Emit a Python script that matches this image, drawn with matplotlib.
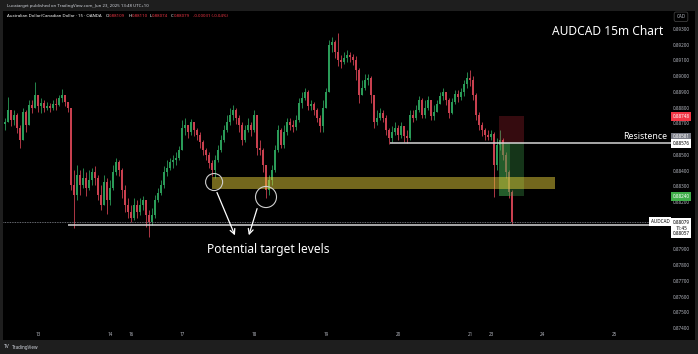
import numpy as np
import matplotlib.pyplot as plt
from matplotlib.patches import Rectangle, Ellipse
from matplotlib import transforms

plt.rcParams['font.family'] = ['Noto Sans', 'DejaVu Sans']

# hourly candles (15m chart compressed), prices in 1e-5 units
# x = trading hours since Fri 13 00:00, weekend gaps collapsed
hours = np.arange(-11, 159)
first_open = 88700
closes = [88712, 88789, 88725, 88757, 88674, 88598, 88776, 88693, 88820, 88801, 88884, 88814, 88833, 88801, 88814, 88801, 88827, 88820, 88865, 88884, 88839, 88801,
          88312, 88249, 88376, 88312, 88357, 88293, 88344, 88395, 88357, 88249, 88185, 88331, 88217, 88293, 88395, 88458, 88408, 88281, 88185, 88141, 88103, 88185,
          88141, 88185, 88217, 88122, 88077, 88122, 88217, 88262, 88312, 88395, 88420, 88458, 88471, 88484, 88535, 88674, 88693, 88649, 88712, 88662, 88630, 88585,
          88535, 88503, 88452, 88408, 88471, 88535, 88598, 88662, 88712, 88757, 88789, 88738, 88693, 88598, 88662, 88693, 88662, 88757, 88547, 88535, 88439, 88281,
          88344, 88408, 88535, 88662, 88566, 88649, 88712, 88693, 88681, 88725, 88833, 88865, 88903, 88814, 88827, 88789, 88738, 88687, 88801, 88903, 89201, 89220,
          89157, 89106, 89093, 89119, 89138, 89125, 89106, 89043, 88884, 88928, 88979, 88992, 88884, 88712, 88738, 88770, 88738, 88662, 88611, 88649, 88674, 88630,
          88687, 88623, 88611, 88757, 88738, 88789, 88852, 88757, 88801, 88852, 88751, 88776, 88827, 88877, 88903, 88852, 88770, 88839, 88890, 88871, 88903, 88954,
          88992, 88979, 88884, 88757, 88693, 88662, 88630, 88617, 88636, 88439, 88566, 88598, 88503, 88395, 88268, 88079]
highs = [88738, 88871, 88776, 88789, 88770, 88693, 88801, 88789, 88852, 88852, 88966, 88865, 88865, 88852, 88839, 88833, 88852, 88865, 88884, 88922, 88865, 88839,
         88801, 88408, 88439, 88408, 88420, 88395, 88408, 88420, 88433, 88376, 88312, 88376, 88357, 88344, 88439, 88484, 88471, 88420, 88312, 88230, 88185, 88230,
         88217, 88230, 88242, 88217, 88154, 88166, 88249, 88293, 88344, 88433, 88471, 88484, 88503, 88522, 88560, 88725, 88738, 88693, 88731, 88712, 88674, 88649,
         88598, 88547, 88522, 88471, 88503, 88566, 88630, 88693, 88757, 88801, 88820, 88801, 88757, 88712, 88693, 88738, 88712, 88789, 88757, 88598, 88547, 88439,
         88376, 88439, 88566, 88693, 88674, 88693, 88738, 88738, 88725, 88757, 88865, 88903, 88928, 88916, 88852, 88839, 88801, 88757, 88852, 88928, 89233, 89252,
         89233, 89278, 89138, 89157, 89170, 89157, 89144, 89131, 89055, 88979, 89017, 89017, 89004, 88884, 88789, 88801, 88789, 88757, 88674, 88687, 88712, 88693,
         88712, 88687, 88662, 88789, 88789, 88820, 88877, 88865, 88852, 88877, 88852, 88820, 88852, 88903, 88928, 88903, 88865, 88865, 88916, 88916, 88928, 88979,
         89030, 89043, 89004, 88897, 88776, 88712, 88674, 88662, 88662, 88649, 88611, 88662, 88611, 88522, 88408, 88281]
lows = [88662, 88712, 88687, 88693, 88642, 88547, 88630, 88649, 88738, 88770, 88801, 88776, 88770, 88776, 88789, 88776, 88789, 88789, 88814, 88839, 88814, 88776,
        88281, 88039, 88217, 88249, 88293, 88242, 88281, 88312, 88312, 88217, 88154, 88268, 88128, 88185, 88281, 88376, 88369, 88230, 88141, 88103, 88077, 88090,
        88103, 88122, 88154, 88046, 87982, 88058, 88103, 88204, 88249, 88293, 88369, 88408, 88420, 88439, 88471, 88535, 88630, 88611, 88630, 88623, 88598, 88547,
        88503, 88471, 88420, 88369, 88357, 88458, 88522, 88585, 88649, 88693, 88725, 88700, 88649, 88566, 88585, 88649, 88623, 88649, 88503, 88503, 88395, 88230,
        88249, 88312, 88395, 88522, 88547, 88547, 88630, 88662, 88649, 88662, 88712, 88801, 88852, 88789, 88789, 88757, 88712, 88649, 88649, 88801, 88903, 89157,
        89119, 89068, 89055, 89081, 89093, 89093, 89074, 88979, 88833, 88884, 88916, 88947, 88833, 88674, 88693, 88725, 88712, 88630, 88573, 88585, 88630, 88598,
        88611, 88585, 88579, 88598, 88712, 88725, 88776, 88738, 88738, 88789, 88725, 88725, 88776, 88827, 88852, 88820, 88738, 88763, 88827, 88839, 88852, 88877,
        88928, 88941, 88852, 88725, 88662, 88623, 88598, 88598, 88598, 88236, 88408, 88535, 88471, 88357, 88230, 88065]

price_ticks = [0.893, 0.892, 0.891, 0.890, 0.889, 0.888, 0.887, 0.885, 0.884, 0.883, 0.882, 0.879, 0.878, 0.877, 0.876, 0.875, 0.874]
day_pos = [0, 24, 31, 48, 72, 96, 120, 144, 151, 168, 192]
day_labels = ['13', '14', '16', '17', '18', '19', '20', '21', '23', '24', '25']

support = 0.88057
resistance = 0.88576
stop_level = 0.88748
target_level = 0.88240
zone_lo, zone_hi = 0.88287, 0.88363

c = np.array(closes) / 1e5
h = np.array(highs) / 1e5
l = np.array(lows) / 1e5
o = np.concatenate([[first_open / 1e5], c[:-1]])
h = np.maximum(h, np.maximum(o, c))
l = np.minimum(l, np.minimum(o, c))
up = c >= o
cols = np.where(up, '#2a9b58', '#c9404f')

fig = plt.figure(figsize=(6.98, 3.54), dpi=100)
fig.patch.set_facecolor('#1e1e1e')
ax = fig.add_axes([3/698, 14/354, 692/698, 329/354])
ax.set_facecolor('black')
for s in ax.spines.values():
    s.set_visible(False)
ax.set_xticks([])
ax.set_yticks([])
ax.set_xlim(-11.67, 219)
ax.set_ylim(0.87328, 0.89417)

# candles
ax.vlines(hours, l, h, colors=cols, lw=0.6, zorder=2)
ax.bar(hours, c - o, bottom=o, width=0.6, color=cols, lw=0, zorder=2)

# last price dotted line
ax.hlines(c[-1], -11.67, 204, colors='#8a8d96', linestyles=(0, (1, 1)), lw=0.6, zorder=3)
# drawn levels
ax.hlines(support, 10, 211, colors='#d6d6d6', lw=1.1, zorder=4)
ax.hlines(resistance, 117.3, 211, colors='#d6d6d6', lw=1.1, zorder=4)

# short position tool
ax.add_patch(Rectangle((153.7, resistance), 8.3, stop_level - resistance, fc='#f23645', alpha=0.22, lw=0, zorder=3))
ax.add_patch(Rectangle((153.7, target_level), 3.6, resistance - target_level, fc='#43a84f', alpha=0.55, lw=0, zorder=3))
ax.add_patch(Rectangle((157.3, target_level), 4.7, resistance - target_level, fc='#43a84f', alpha=0.32, lw=0, zorder=3))

# demand zone
ax.add_patch(Rectangle((58, zone_lo), 114.3, zone_hi - zone_lo, fc='#e6cf3a', alpha=0.5, lw=0, zorder=5))

# circles and arrows
ax.add_patch(Ellipse((58.7, 0.88331), 5.67, 0.00108, fill=False, ec='#cfcfcf', lw=0.8, zorder=6))
ax.add_patch(Ellipse((76, 0.88236), 7, 0.00134, fill=False, ec='#cfcfcf', lw=0.8, zorder=6))
ax.annotate('', xy=(66, 0.87976), xytext=(59.3, 0.88281),
            arrowprops=dict(arrowstyle='->', color='white', lw=0.9, mutation_scale=9), zorder=6)
ax.annotate('', xy=(70, 0.87976), xytext=(73.3, 0.88179),
            arrowprops=dict(arrowstyle='->', color='white', lw=0.9, mutation_scale=9), zorder=6)

ax.text(56.3, 0.87900, 'Potential target levels', color='white', fontsize=8.6, va='center', ha='left', zorder=7)
ax.text(171.3, 0.8929, 'AUDCAD 15m Chart', color='white', fontsize=8.6, va='center', ha='left', zorder=7)
ax.text(195, 0.88620, 'Resistence', color='white', fontsize=6.3, va='center', ha='left', zorder=7)

# price scale
tr = transforms.blended_transform_factory(ax.transAxes, ax.transData)
px = 678 / 692
for p in price_ticks:
    ax.text(px, p, f'{p:.5f}', transform=tr, color='#b2b5be', fontsize=3.3, ha='center', va='center')

def price_box(p, txt, fc, tc):
    ax.text(px, p, txt, transform=tr, color=tc, fontsize=3.3, ha='center', va='center', zorder=9,
            bbox=dict(boxstyle='square,pad=0.4', fc=fc, ec='none'))

price_box(stop_level, f'{stop_level:.5f}', '#f23645', 'white')
price_box(0.88617, '0.88581', '#787b86', 'white')
price_box(resistance, f'{resistance:.5f}', 'white', 'black')
price_box(target_level, f'{target_level:.5f}', '#3fae49', 'white')
price_box(0.88039, f'{c[-1]:.5f}\n11:45\n{support:.5f}', 'white', 'black')
ax.text(657 / 692, c[-1], 'AUDCAD', transform=tr, color='black', fontsize=3.3, ha='center', va='center', zorder=9,
        bbox=dict(boxstyle='square,pad=0.4', fc='white', ec='none'))
ax.text(px, 0.89380, 'CAD', transform=tr, color='#b2b5be', fontsize=3.3, ha='center', va='center', zorder=9,
        bbox=dict(boxstyle='round,pad=0.5,rounding_size=0.4', fc='black', ec='#4a4a4a', lw=0.5))

# time scale
for d, lab in zip(day_pos, day_labels):
    ax.text(d, 5/329, lab, transform=transforms.blended_transform_factory(ax.transData, ax.transAxes),
            color='#b2b5be', fontsize=3.3, ha='center', va='center')

# header
fig.text(7/698, 1 - 5.7/354, 'Lucatarget published on TradingView.com, Jun 23, 2025 13:48 UTC+10',
         color='#d1d4dc', fontsize=3.1, va='center')
y2 = 1 - 15.7/354
fig.text(7/698, y2, 'Australian Dollar/Canadian Dollar · 15 · OANDA', color='white', fontsize=3.1, va='center')
for xx, txt, col in [(106, 'O', 'white'), (108.5, '0.88109', '#f23645'), (129, 'H', 'white'), (131.5, '0.88110', '#f23645'),
                     (150, 'L', 'white'), (152, '0.88074', '#f23645'), (171, 'C', 'white'), (173.5, '0.88079', '#f23645'),
                     (193, '-0.00031 (-0.04%)', '#f23645')]:
    fig.text(xx/698, y2, txt, color=col, fontsize=3.1, va='center')

fig.text(4/698, 1 - 347/354, 'TV', color='#d1d4dc', fontsize=3.6, fontweight='bold', va='center')
fig.text(12/698, 1 - 347/354, 'TradingView', color='#d1d4dc', fontsize=3.3, va='center')

fig.savefig('out.png', dpi=100, facecolor=fig.get_facecolor())
